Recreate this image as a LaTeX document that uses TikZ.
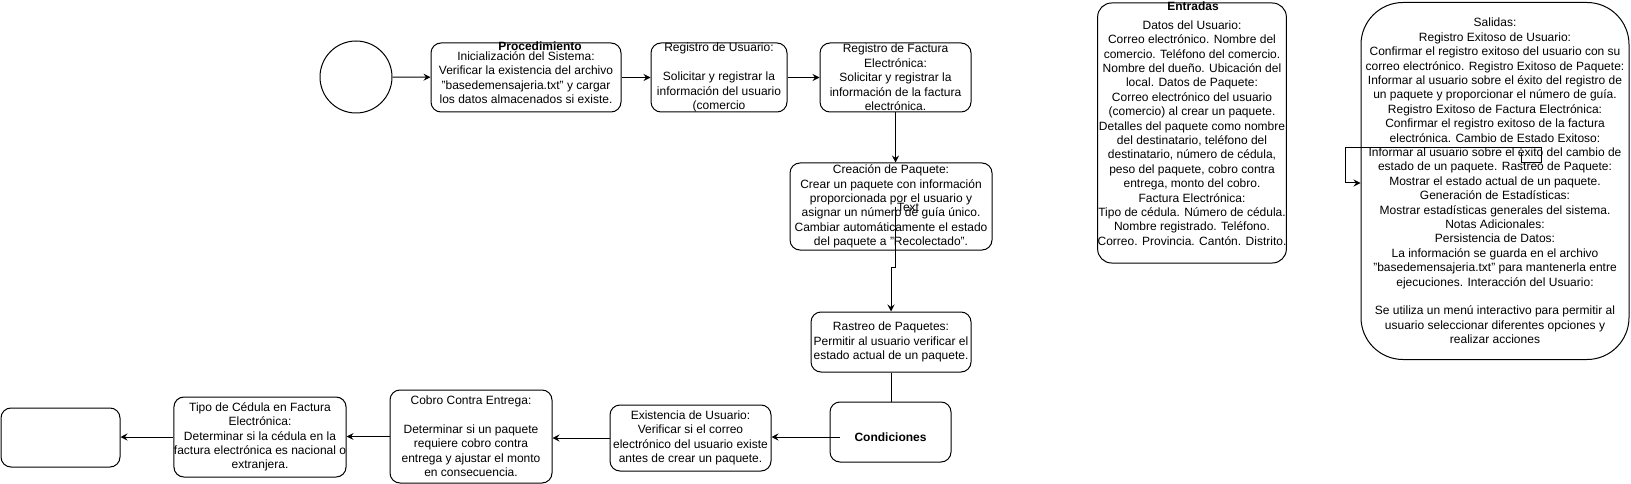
\documentclass[tikz,border=0pt]{standalone}
\usepackage{fontspec}
\setmainfont{Liberation Sans}
\usepackage{tikz}
\usetikzlibrary{arrows.meta,positioning,calc}

\begin{document}
\begin{tikzpicture}[x=1pt,y=-1pt,
  caja/.style={draw,line width=1pt,rounded corners=10pt,align=center,inner sep=0pt,
    font=\fontsize{12}{14.4}\selectfont},
  rotulo/.style={font=\bfseries\fontsize{12}{14.4}\selectfont,inner sep=0pt},
  flecha/.style={line width=1pt,-{Stealth[length=7pt,width=7pt,inset=2.5pt]}}]
  \useasboundingbox (0,0) rectangle (1631,484); % 画像全体の範囲
  \node[draw,circle,line width=1pt,minimum size=72pt,inner sep=0pt] (inicio) at (356,77) {}; % 開始の円
  \node[caja,minimum width=190pt,minimum height=69pt] (inic) at (526,77.5)
    {Inicialización del Sistema:\\Verificar la existencia del archivo\\"basedemensajeria.txt" y cargar\\los datos almacenados si existe.}; % 初期化
  \node[rotulo] (proc) at (540,46) {Procedimiento}; % 手順の見出し（箱に重なる）
  \node[caja,minimum width=136pt,minimum height=69pt] (reg) at (719,77.5)
    {Registro de Usuario:\\[14.4pt]Solicitar y registrar la\\información del usuario\\(comercio}; % 利用者登録
  \node[caja,minimum width=151pt,minimum height=69pt] (fact) at (895.5,77.5)
    {Registro de Factura\\Electrónica:\\Solicitar y registrar la\\información de la factura\\electrónica.}; % 電子請求書の登録
  \node[caja,minimum width=202pt,minimum height=87pt] (crea) at (891,206.5)
    {Creación de Paquete:\\Crear un paquete con información\\proporcionada por el usuario y\\asignar un número de guía único.\\Cambiar automáticamente el estado\\del paquete a "Recolectado".}; % 荷物の作成
  \node[caja,minimum width=160pt,minimum height=60pt] (rastreo) at (891,342)
    {Rastreo de Paquetes:\\Permitir al usuario verificar el\\estado actual de un paquete.}; % 追跡
  \node[caja,minimum width=121pt,minimum height=60pt,
    label={[rotulo,yshift=-5pt]center:Condiciones}] (cond) at (890.5,432) {}; % 条件（文字は少し下寄り）
  \node[caja,minimum width=161pt,minimum height=66pt] (exist) at (690.5,438)
    {Existencia de Usuario:\\Verificar si el correo\\electrónico del usuario existe\\antes de crear un paquete.}; % 利用者の存在確認
  \node[caja,minimum width=162pt,minimum height=93pt] (cobro) at (471,436.5)
    {Cobro Contra Entrega:\\[14.4pt]Determinar si un paquete\\requiere cobro contra\\entrega y ajustar el monto\\en consecuencia.}; % 代金引換
  \node[caja,minimum width=170pt,minimum height=80pt] (tipo) at (260,437)
    {Tipo de Cédula en Factura\\Electrónica:\\Determinar si la cédula en la\\factura electrónica es nacional o\\extranjera.}; % 身分証の種類
  \node[caja,minimum width=119pt,minimum height=59pt] (vacio) at (60.5,437.5) {}; % 空の箱
  \node[caja,rounded corners=14pt,minimum width=180pt,minimum height=260pt] (entradas) at (1192,133)
    {Datos del Usuario:\\Correo electrónico. Nombre del\\comercio. Teléfono del comercio.\\Nombre del dueño. Ubicación del\\local. Datos de Paquete:\\Correo electrónico del usuario\\(comercio) al crear un paquete.\\Detalles del paquete como nombre\\del destinatario, teléfono del\\destinatario, número de cédula,\\peso del paquete, cobro contra\\entrega, monto del cobro.\\Factura Electrónica:\\Tipo de cédula. Número de cédula.\\Nombre registrado. Teléfono.\\Correo. Provincia. Cantón. Distrito.}; % 入力
  \node[rotulo] (tent) at (1193,6) {Entradas}; % 入力の見出し
  \node[caja,rounded corners=42pt,minimum width=268pt,minimum height=357pt] (salidas) at (1495,181)
    {Salidas:\\Registro Exitoso de Usuario:\\Confirmar el registro exitoso del usuario con su\\correo electrónico. Registro Exitoso de Paquete:\\Informar al usuario sobre el éxito del registro de\\un paquete y proporcionar el número de guía.\\Registro Exitoso de Factura Electrónica:\\Confirmar el registro exitoso de la factura\\electrónica. Cambio de Estado Exitoso:\\Informar al usuario sobre el éxito del cambio de\\estado de un paquete. Rastreo de Paquete:\\Mostrar el estado actual de un paquete.\\Generación de Estadísticas:\\Mostrar estadísticas generales del sistema.\\Notas Adicionales:\\Persistencia de Datos:\\La información se guarda en el archivo\\"basedemensajeria.txt" para mantenerla entre\\ejecuciones. Interacción del Usuario:\\[14.4pt]Se utiliza un menú interactivo para permitir al\\usuario seleccionar diferentes opciones y\\realizar acciones}; % 出力
  \node[font=\fontsize{12}{14.4}\selectfont,inner sep=0pt] (etq) at (908,207) {Text}; % 矢印のラベル
  \draw[flecha] (inicio) -- (inic); % 開始→初期化
  \draw[flecha] (inic) -- (reg);
  \draw[flecha] (reg) -- (fact);
  \draw[flecha] (fact.south) -- (fact.south |- crea.north); % 請求書→荷物作成
  \draw[flecha] ([xshift=4pt]crea.center) -- ++(0,61) -| (rastreo.north); % 箱の中から出る折れ線
  \draw[line width=1pt] (rastreo.south) -- (rastreo.south |- cond.north); % 矢印なし
  \coordinate (c1) at (840,437); % 条件の箱の内側の始点
  \draw[flecha] (c1) -- (c1 -| exist.east);
  \draw[flecha] (exist.west) -- (exist.west -| cobro.east);
  \draw[flecha] (cobro.west) -- (cobro.west -| tipo.east);
  \draw[flecha] (tipo.west) -- (tipo.west -| vacio.east);
  \coordinate (lazo) at (1521,153); % 出力の箱の上に残った線
  \draw[flecha] (lazo) -- ++(0,10) -- ++(20,0) -- ++(0,-15) -- ++(-196,0)
    |- ([yshift=-2pt]salidas.west);
\end{tikzpicture}
\end{document}
